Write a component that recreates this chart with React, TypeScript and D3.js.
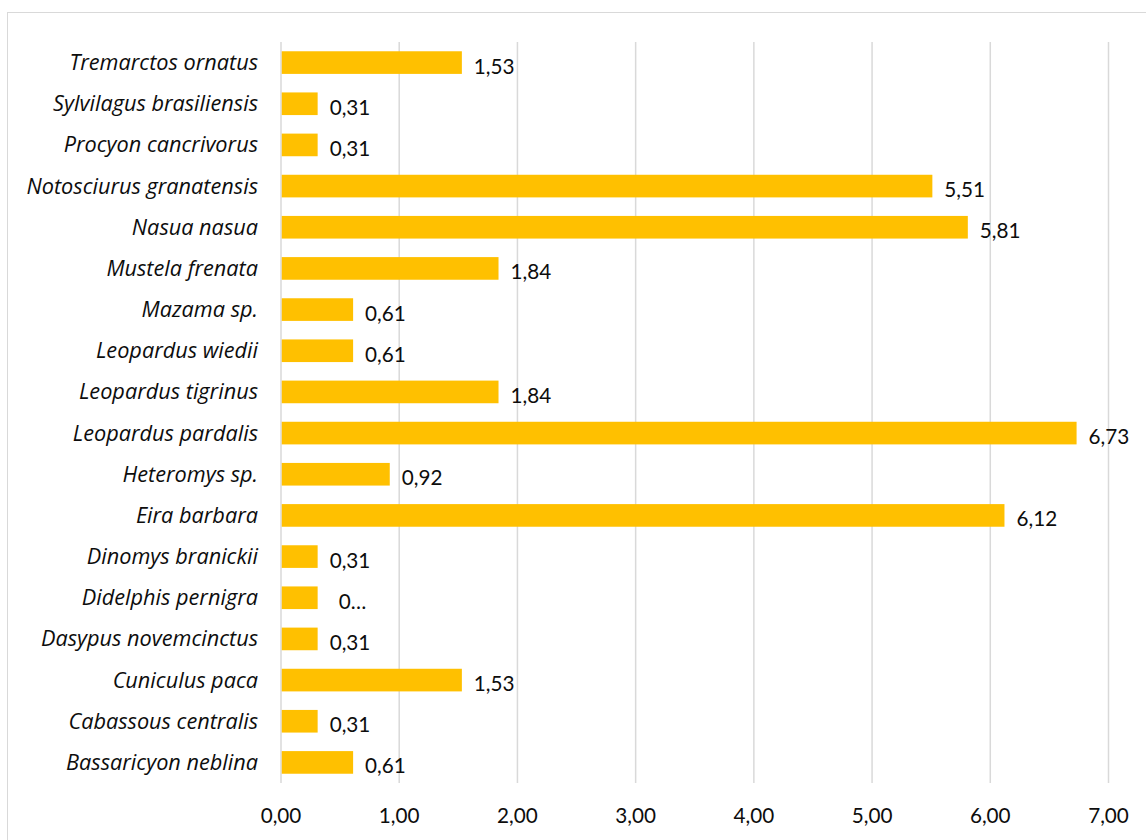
import React from "react";
import * as d3 from "d3";

const categories = [
  "Tremarctos ornatus",
  "Sylvilagus brasiliensis",
  "Procyon cancrivorus",
  "Notosciurus granatensis",
  "Nasua nasua",
  "Mustela frenata",
  "Mazama sp.",
  "Leopardus wiedii",
  "Leopardus tigrinus",
  "Leopardus pardalis",
  "Heteromys sp.",
  "Eira barbara",
  "Dinomys branickii",
  "Didelphis pernigra",
  "Dasypus novemcinctus",
  "Cuniculus paca",
  "Cabassous centralis",
  "Bassaricyon neblina",
];

const values = [1.53, 0.31, 0.31, 5.51, 5.81, 1.84, 0.61, 0.61, 1.84, 6.73, 0.92, 6.12, 0.31, 0.31, 0.31, 1.53, 0.31, 0.61];

const valueLabels = ["1,53", "0,31", "0,31", "5,51", "5,81", "1,84", "0,61", "0,61", "1,84", "6,73", "0,92", "6,12", "0,31", "0…", "0,31", "1,53", "0,31", "0,61"];

const ticks = [0, 1, 2, 3, 4, 5, 6, 7];

const W = 1146;
const H = 840;
const FONT = "Lato, 'Open Sans', sans-serif";
const CAT_FONT = "'Open Sans', Lato, sans-serif";

export default function App() {
  const x = d3.scaleLinear().domain([0, 7]).range([281, 1108.5]);
  const y = d3.scaleBand<string>().domain(categories).range([42, 783]).paddingInner(0.45).paddingOuter(0.225);
  const fmt = (v: number) => d3.format(".2f")(v).replace(".", ",");

  return (
    <svg width={W} height={H} style={{ position: "absolute", left: 0, top: 0, background: "#fff" }} fontFamily={FONT}>
      <rect x={0} y={0} width={W} height={H} fill="#fff" />
      <rect x={7.5} y={12.5} width={W + 10} height={H + 10} fill="none" stroke="#d9d9d9" strokeWidth={1} />
      {ticks.map((t) => (
        <line key={"g" + t} x1={x(t)} x2={x(t)} y1={42} y2={783} stroke="#d9d9d9" strokeWidth={1.5} />
      ))}
      {categories.map((c, i) => {
        const yc = (y(c) as number) + y.bandwidth() / 2;
        return (
          <g key={c}>
            <rect x={x(0) + 0.75} y={y(c)} width={x(values[i]) - x(0) - 0.75} height={y.bandwidth()} fill="#FFC000" />
            <text x={258} y={yc + 7.5} textAnchor="end" fontStyle="italic" fontSize={21.7} fill="#0d0d0d" fontFamily={CAT_FONT}>
              {c}
            </text>
            <text
              x={x(values[i]) + (valueLabels[i] === "0…" ? 21 : 12)}
              y={yc + 11}
              fontSize={20.7}
              fill="#0d0d0d"
            >
              {valueLabels[i]}
            </text>
          </g>
        );
      })}
      {ticks.map((t) => (
        <text key={"t" + t} x={x(t)} y={823} textAnchor="middle" fontSize={20.7} fill="#0d0d0d">
          {fmt(t)}
        </text>
      ))}
    </svg>
  );
}
